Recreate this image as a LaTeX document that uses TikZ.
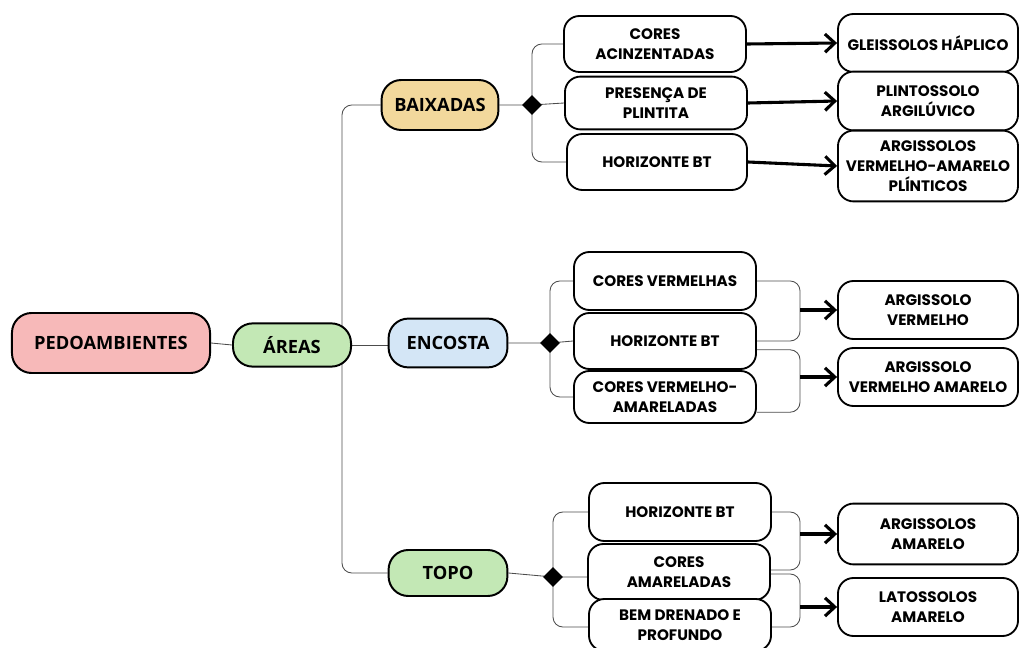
\documentclass[tikz,border=0pt]{standalone}
\usepackage{fontspec}
\setmainfont{Poppins}
\newfontfamily\headfont{Open Sans}
\usetikzlibrary{backgrounds, calc, positioning, shapes.geometric, arrows.meta}

\definecolor{rootpink}{HTML}{F7B9B9}
\definecolor{areagreen}{HTML}{C3E8B5}
\definecolor{lowyellow}{HTML}{F2D89C}
\definecolor{slopeblue}{HTML}{D4E6F6}

\tikzset{
  headbox/.style={draw=black, line width=1.4pt, rounded corners=14pt, align=center,
    font=\headfont\bfseries\fontsize{13}{15}\selectfont, inner sep=0pt},
  featbox/.style={draw=black, line width=1.3pt, rounded corners=11pt, fill=white, align=center,
    minimum width=4.55cm, minimum height=1.4cm, inner sep=0pt,
    font=\bfseries\fontsize{10.8}{14}\selectfont},
  soilbox/.style={featbox, minimum width=4.5cm},
  hub/.style={diamond, fill=black, inner sep=0pt, minimum size=0.5cm},
  link/.style={draw=black!70, line width=0.6pt, rounded corners=7pt},
  goes/.style={line width=2.2pt, -{Straight Barb[length=7pt, width=13pt, line width=2.2pt]}}
}

\begin{document}
\begin{tikzpicture}[x=0.025cm, y=-0.025cm]
          \useasboundingbox (0,0) rectangle (1020,648);
          % Main levels
          \node[headbox, fill=rootpink, minimum width=4.95cm, minimum height=1.5cm] (pedo) at (111,343) {PEDOAMBIENTES};
          \node[headbox, fill=areagreen, minimum width=2.95cm, minimum height=1.08cm] (areas) at (292,345) {ÁREAS};
          \node[headbox, fill=lowyellow, minimum width=2.92cm, minimum height=1.25cm] (baixadas) at (440,105) {BAIXADAS};
          \node[headbox, fill=slopeblue, minimum width=2.97cm, minimum height=1.22cm] (encosta) at (448,343) {ENCOSTA};
          \node[headbox, fill=areagreen, minimum width=2.97cm, minimum height=1.15cm] (topo) at (448,573) {TOPO};
          \coordinate (trunk) at (342,345);
          % Baixadas
          \node[hub] (bxhub) at (532,105) {};
          \node[featbox] (bx1) at (655,44) {CORES\\ACINZENTADAS};
          \node[featbox, minimum height=1.32cm] (bx2) at (656,103) {PRESENÇA DE\\PLINTITA};
          \node[featbox, minimum width=4.5cm] (bx3) at (657,162) {HORIZONTE BT};
          \node[soilbox, minimum height=1.45cm] (gleis) at (928,43) {GLEISSOLOS HÁPLICO};
          \node[soilbox, minimum height=1.47cm] (plint) at (928,101) {PLINTOSSOLO\\ARGILÚVICO};
          \node[soilbox, minimum height=1.77cm] (argvap) at (928,166) {ARGISSOLOS\\VERMELHO-AMARELO\\PLÍNTICOS};
          % Encosta
          \node[hub] (enhub) at (550,343) {};
          \node[featbox, minimum height=1.45cm] (en1) at (665,281) {CORES VERMELHAS};
          \node[featbox] (en2) at (665,341) {HORIZONTE BT};
          \node[featbox, minimum height=1.3cm] (en3) at (665,397) {CORES VERMELHO-\\AMARELADAS};
          \node[soilbox, minimum height=1.45cm] (argv) at (928,310) {ARGISSOLO\\VERMELHO};
          \node[soilbox, minimum height=1.45cm] (argva) at (928,377) {ARGISSOLO\\VERMELHO AMARELO};
          \coordinate (enbk1) at (800,310);
          \coordinate (enbk2) at (800,377);
          % Topo
          \node[hub] (tphub) at (553,577) {};
          \node[featbox, minimum height=1.45cm] (tp1) at (680,512) {HORIZONTE BT};
          \node[featbox, minimum height=1.4cm] (tp2) at (679,572) {CORES\\AMARELADAS};
          \node[featbox, minimum height=1.3cm] (tp3) at (680,625) {BEM DRENADO E\\PROFUNDO};
          \node[soilbox, minimum height=1.52cm] (argam) at (928,534) {ARGISSOLOS\\AMARELO};
          \node[soilbox, minimum height=1.45cm] (latam) at (928,607) {LATOSSOLOS\\AMARELO};
          \coordinate (tpbk1) at (800,534);
          \coordinate (tpbk2) at (800,607);
          % Connectors
          \begin{scope}[on background layer]
            \draw[link] (pedo.east) -- (areas.west);
            \draw[link] (baixadas.west) -| (trunk) |- (topo.west);
            \draw[link] (areas.east) -- (areas.east -| encosta.west);
            \draw[link] (baixadas.east) -- (bxhub.center) -- (bx2.west);
            \draw[link] (bxhub.center) |- (bx1.west);
            \draw[link] (bxhub.center) |- (bx3.west);
            \draw[link] (encosta.east) -- (enhub.center) -- (en2.west);
            \draw[link] (enhub.center) |- (en1.west);
            \draw[link] (enhub.center) |- (en3.west);
            \draw[link] (topo.east) -- (tphub.center) -- (tphub.center -| tp2.west);
            \draw[link] (tphub.center) |- (tp1.west);
            \draw[link] (tphub.center) |- ([yshift=-0.05cm]tp3.west);
            \draw[link] (en1.east) -| (enbk1) |- (en2.east);
            \draw[link] ([yshift=-0.22cm]en2.east) -| (enbk2) |- ([yshift=-0.38cm]en3.east);
            \draw[link] (tp1.east) -| (tpbk1) |- ([yshift=0.05cm]tp2.east);
            \draw[link] ([yshift=-0.05cm]tp2.east) -| (tpbk2) |- ([yshift=-0.05cm]tp3.east);
          \end{scope}
          % Arrows
          \draw[goes] (bx1.east) -- (gleis.west);
          \draw[goes] (bx2.east) -- (plint.west);
          \draw[goes] (bx3.east) -- (argvap.west);
          \draw[goes] (enbk1) -- (argv.west);
          \draw[goes] (enbk2) -- (argva.west);
          \draw[goes] (tpbk1) -- (argam.west);
          \draw[goes] (tpbk2) -- (latam.west);
        \end{tikzpicture}
\end{document}
